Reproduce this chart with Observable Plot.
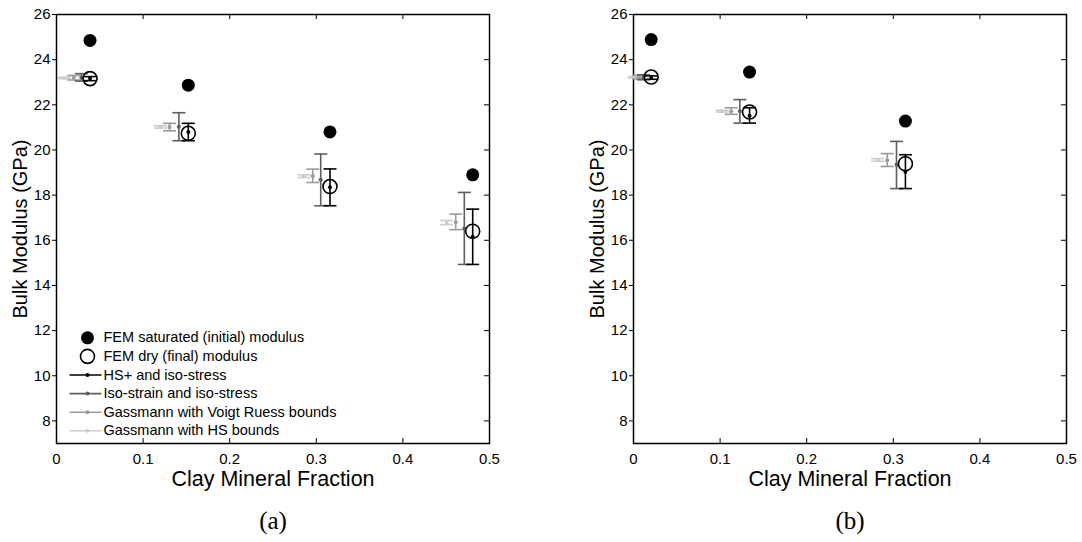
<!DOCTYPE html>
<html><head><meta charset="utf-8">
<script src="https://cdn.jsdelivr.net/npm/d3@7"></script>
<script src="https://cdn.jsdelivr.net/npm/@observablehq/plot@0.6"></script>
<style>
html,body{margin:0;padding:0;background:#fff;}
#wrap{position:relative;width:1082px;height:542px;overflow:hidden;background:#fff;}
#wrap svg{position:absolute;top:0;}
</style></head><body><div id="wrap"></div>
<script>
// ---------- data ----------
const xTicks = [0, 0.1, 0.2, 0.3, 0.4, 0.5];
const yTicks = [8, 10, 12, 14, 16, 18, 20, 22, 24, 26];
const xLabel = "Clay Mineral Fraction";
const yLabel = "Bulk Modulus (GPa)";
const seriesNames = ["HS+ and iso-stress", "Iso-strain and iso-stress", "Gassmann with Voigt Ruess bounds", "Gassmann with HS bounds"];
const femNames = ["FEM saturated (initial) modulus", "FEM dry (final) modulus"];

// panel (a)
const aFemX   = [0.0387, 0.1522, 0.3158, 0.4806];
const aSatK   = [24.85, 22.87, 20.80, 18.90];
const aDryK   = [23.16, 20.74, 18.38, 16.40];
const aHsX    = [0.0387, 0.1522, 0.3158, 0.4806];
const aHsLo   = [23.07, 20.41, 17.53, 14.93];
const aHsMid  = [23.16, 20.80, 18.35, 16.16];
const aHsHi   = [23.25, 21.18, 19.16, 17.38];
const aIsoX   = [0.0287, 0.1413, 0.3051, 0.4709];
const aIsoLo  = [23.05, 20.41, 17.53, 14.93];
const aIsoMid = [23.21, 21.03, 18.68, 16.52];
const aIsoHi  = [23.38, 21.65, 19.82, 18.12];
const aVrX    = [0.0200, 0.1305, 0.2959, 0.4610];
const aVrLo   = [23.10, 20.85, 18.56, 16.47];
const aVrMid  = [23.20, 21.02, 18.85, 16.80];
const aVrHi   = [23.30, 21.18, 19.15, 17.16];
const aGhX    = [0.0090, 0.1201, 0.2858, 0.4506];
const aGhLo   = [23.16, 20.97, 18.78, 16.69];
const aGhMid  = [23.19, 21.02, 18.84, 16.78];
const aGhHi   = [23.22, 21.07, 18.90, 16.88];

// panel (b)
const bFemX   = [0.0204, 0.1340, 0.3140];
const bSatK   = [24.89, 23.45, 21.28];
const bDryK   = [23.23, 21.68, 19.39];
const bHsX    = [0.0204, 0.1340, 0.3140];
const bHsLo   = [23.13, 21.19, 18.29];
const bHsMid  = [23.20, 21.52, 19.04];
const bHsHi   = [23.28, 21.87, 19.79];
const bIsoX   = [0.0115, 0.1228, 0.3037];
const bIsoLo  = [23.11, 21.19, 18.29];
const bIsoMid = [23.22, 21.71, 19.35];
const bIsoHi  = [23.33, 22.23, 20.38];
const bVrX    = [0.0060, 0.1128, 0.2930];
const bVrLo   = [23.15, 21.58, 19.27];
const bVrMid  = [23.22, 21.72, 19.55];
const bVrHi   = [23.30, 21.87, 19.84];
const bGhX    = [0.0010, 0.1024, 0.2820];
const bGhLo   = [23.19, 21.68, 19.50];
const bGhMid  = [23.22, 21.72, 19.56];
const bGhHi   = [23.25, 21.76, 19.62];

// ---------- styles ----------
const FONT = "'Liberation Sans', Arial, sans-serif";
const SERIF = "'Liberation Serif', 'Times New Roman', serif";
const seriesColors = ["#000000", "#5e5e5e", "#9a9a9a", "#cdcdcd"];
const hbar = {draw(ctx, size) { const r = Math.sqrt(size / Math.PI); ctx.moveTo(-r, 0); ctx.lineTo(r, 0); }};
const innerH = 429;

function rows(xs, lo, mid, hi) { return xs.map((x, i) => ({x, lo: lo[i], mid: mid[i], hi: hi[i]})); }

function panel(p) {
  const innerW = 541 - p.marginLeft - p.marginRight;
  const marks = [Plot.frame({stroke: "black", strokeWidth: 1.5})];
  for (let s = 3; s >= 0; --s) {
    const c = seriesColors[s];
    const d = p.series[s];
    marks.push(
      Plot.ruleX(d, {x: "x", y1: "lo", y2: "hi", stroke: c, strokeWidth: 1.6}),
      Plot.dot(d, {x: "x", y: "lo", symbol: hbar, r: 6.5, stroke: c, strokeWidth: 1.6, fill: "none"}),
      Plot.dot(d, {x: "x", y: "hi", symbol: hbar, r: 6.5, stroke: c, strokeWidth: 1.6, fill: "none"}),
      Plot.dot(d, {x: "x", y: "mid", r: 2, fill: c, stroke: "none"})
    );
  }
  marks.push(
    Plot.dot(p.femX, {x: d => d, y: (d, i) => p.dry[i], r: 7, stroke: "black", strokeWidth: 1.6, fill: "none"}),
    Plot.dot(p.femX, {x: d => d, y: (d, i) => p.sat[i], r: 6.5, fill: "black", stroke: "none"}),
    // inward ticks (bottom, top, right), outward on left
    Plot.tickX(xTicks, {x: d => d, insetTop: innerH - 5, stroke: "black", strokeWidth: 1}),
    Plot.tickX(xTicks, {x: d => d, insetBottom: innerH - 5, stroke: "black", strokeWidth: 1}),
    Plot.tickY(yTicks, {y: d => d, insetLeft: innerW - 5, stroke: "black", strokeWidth: 1}),
    Plot.tickY(yTicks, {y: d => d, insetRight: innerW - 4, dx: -4, stroke: "black", strokeWidth: 1}),
    Plot.axisX({ticks: xTicks, tickSize: 0, tickPadding: 10, fontSize: 15, tickFormat: d => String(d), label: null}),
    Plot.axisY({ticks: yTicks, tickSize: 0, tickPadding: 6, fontSize: 15, tickFormat: d => String(d), label: null}),
    Plot.text([xLabel], {frameAnchor: "bottom", dy: 36, fontSize: 21.5, textAnchor: "middle", lineAnchor: "middle"}),
    Plot.text([yLabel], {frameAnchor: "left", dx: -36, rotate: -90, fontSize: 20, textAnchor: "middle", lineAnchor: "middle"}),
    Plot.text([p.tag], {frameAnchor: "bottom", dy: 77, fontSize: 25, fontFamily: SERIF, textAnchor: "middle", lineAnchor: "middle"})
  );
  if (p.legend) {
    const gap = 18.6, base = -12.7, mx = 31;
    const rowDy = i => base - (5 - i) * gap;
    const one = [0];
    marks.push(Plot.dot(one, {frameAnchor: "bottom-left", dx: mx, dy: rowDy(0), r: 6.5, fill: "black", stroke: "none"}));
    marks.push(Plot.dot(one, {frameAnchor: "bottom-left", dx: mx, dy: rowDy(1), r: 7, fill: "none", stroke: "black", strokeWidth: 1.6}));
    seriesNames.forEach((n, s) => {
      marks.push(Plot.dot(one, {frameAnchor: "bottom-left", dx: mx - 2, dy: rowDy(s + 2), symbol: hbar, r: 16, stroke: seriesColors[s], strokeWidth: 1.6, fill: "none"}));
      marks.push(Plot.dot(one, {frameAnchor: "bottom-left", dx: mx, dy: rowDy(s + 2), r: 2, fill: seriesColors[s], stroke: "none"}));
    });
    [...femNames, ...seriesNames].forEach((n, i) => {
      marks.push(Plot.text([n], {frameAnchor: "bottom-left", dx: 47, dy: rowDy(i), fontSize: 14.5, textAnchor: "start", lineAnchor: "middle"}));
    });
  }
  return Plot.plot({
    width: 541, height: 542,
    marginLeft: p.marginLeft, marginRight: p.marginRight, marginTop: 14, marginBottom: 99,
    x: {domain: [0, 0.5]}, y: {domain: [7, 26]},
    style: {fontFamily: FONT, fontSize: "15px", background: "transparent", overflow: "visible", color: "black"},
    marks
  });
}

const A = panel({
  tag: "(a)", marginLeft: 56, marginRight: 52, legend: true,
  femX: aFemX, sat: aSatK, dry: aDryK,
  series: [rows(aHsX, aHsLo, aHsMid, aHsHi), rows(aIsoX, aIsoLo, aIsoMid, aIsoHi), rows(aVrX, aVrLo, aVrMid, aVrHi), rows(aGhX, aGhLo, aGhMid, aGhHi)]
});
const B = panel({
  tag: "(b)", marginLeft: 92, marginRight: 16, legend: false,
  femX: bFemX, sat: bSatK, dry: bDryK,
  series: [rows(bHsX, bHsLo, bHsMid, bHsHi), rows(bIsoX, bIsoLo, bIsoMid, bIsoHi), rows(bVrX, bVrLo, bVrMid, bVrHi), rows(bGhX, bGhLo, bGhMid, bGhHi)]
});
A.style.left = "0px";
B.style.left = "541px";
document.getElementById("wrap").append(A, B);
</script></body></html>
